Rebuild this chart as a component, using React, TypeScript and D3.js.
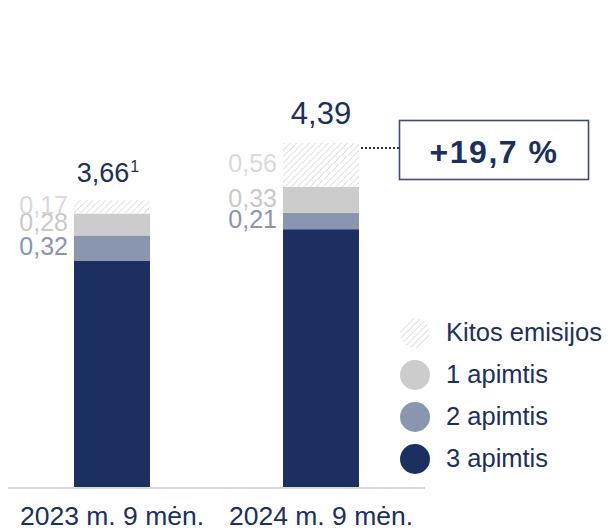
import React from "react";
import * as d3 from "d3";

const categories = ["2023 m. 9 mėn.", "2024 m. 9 mėn."];
const scope3 = [2.89, 3.29];
const scope2 = [0.32, 0.21];
const scope1 = [0.28, 0.33];
const other = [0.17, 0.56];
const totalLabels = ["3,66", "4,39"];
const totalSup = ["1", ""];
const changeLabel = "+19,7 %";
const seriesKeys = ["scope3", "scope2", "scope1", "other"];
const legendLabels = ["Kitos emisijos", "1 apimtis", "2 apimtis", "3 apimtis"];

const NAVY = "#1b2f60";
const MID = "#8a96b0";
const LIGHT = "#cccccc";
const HATCH = "#d2d2d2";
const FONT = "'Liberation Sans', Arial, sans-serif";

export default function App() {
  const W = 608, H = 529;
  const baseY = 487;
  const rows = categories.map((c, i) => ({
    cat: c,
    scope3: scope3[i],
    scope2: scope2[i],
    scope1: scope1[i],
    other: other[i],
  }));
  const stack = d3.stack<any>().keys(seriesKeys);
  const series = stack(rows);
  const maxTotal = d3.max(rows, (r) => r.scope3 + r.scope2 + r.scope1 + r.other) as number;
  const y = d3.scaleLinear().domain([0, maxTotal]).range([baseY, 143]);
  const x = d3.scalePoint<string>().domain(categories).range([112, 321]);
  const bw = 76;

  const fills: Record<string, string> = {
    scope3: NAVY,
    scope2: MID,
    scope1: LIGHT,
    other: "url(#hatch)",
  };
  const labelColors: Record<string, string> = {
    scope2: MID,
    scope1: "#c9c9c9",
    other: "#d9d9d9",
  };

  const legendFills = ["url(#hatch)", LIGHT, MID, NAVY];
  const legendY = d3.scalePoint<string>().domain(legendLabels).range([333, 459]);

  const top2 = y(maxTotal);
  const bar2Right = (x(categories[1]) as number) + bw / 2;

  return (
    <div style={{ position: "absolute", left: 0, top: 0 }}>
      <svg width={W} height={H} style={{ display: "block", fontFamily: FONT }}>
        <defs>
          <pattern id="hatch" patternUnits="userSpaceOnUse" width="4.5" height="4.5" patternTransform="rotate(45)">
            <rect width="4.5" height="4.5" fill="#ffffff" />
            <line x1="0" y1="0" x2="0" y2="4.5" stroke={HATCH} strokeWidth="1.3" />
          </pattern>
        </defs>
        {series.map((s) =>
          s.map((d, i) => (
            <rect
              key={s.key + i}
              x={(x(categories[i]) as number) - bw / 2}
              y={y(d[1])}
              width={bw}
              height={y(d[0]) - y(d[1])}
              fill={fills[s.key]}
            />
          ))
        )}
        {series
          .filter((s) => s.key !== "scope3")
          .map((s) =>
            s.map((d, i) => (
              <text
                key={"l" + s.key + i}
                x={(x(categories[i]) as number) - bw / 2 - 6}
                y={(y(d[0]) + y(d[1])) / 2 + 7}
                textAnchor="end"
                fontSize={25}
                fill={labelColors[s.key]}
              >
                {d3.format(".2f")(d[1] - d[0]).replace(".", ",")}
              </text>
            ))
          )}
        {categories.map((c, i) => {
          const total = rows[i].scope3 + rows[i].scope2 + rows[i].scope1 + rows[i].other;
          const big = i === 1;
          return (
            <text
              key={"t" + i}
              x={(x(c) as number) + (big ? 0 : -4)}
              y={y(total) - (big ? 19 : 18)}
              textAnchor="middle"
              fontSize={big ? 31 : 27}
              fill={NAVY}
            >
              {totalLabels[i]}
              {totalSup[i] && (
                <tspan fontSize={16} dy={-10} dx={1}>
                  {totalSup[i]}
                </tspan>
              )}
            </text>
          );
        })}
        <line x1={8} x2={425} y1={baseY + 1} y2={baseY + 1} stroke="#d9d9d9" strokeWidth={2} />
        {categories.map((c) => (
          <text key={"x" + c} x={x(c) as number} y={525} textAnchor="middle" fontSize={26.5} fill={NAVY}>
            {c}
          </text>
        ))}
        <line
          x1={bar2Right + 2}
          x2={399}
          y1={top2 + 5}
          y2={top2 + 5}
          stroke={NAVY}
          strokeWidth={2.2}
          strokeDasharray="2 2"
        />
        <rect x={399.5} y={120.5} width={189} height={59} fill="#ffffff" stroke="#3c4a7c" strokeWidth={1.6} />
        <text x={494} y={163} textAnchor="middle" fontSize={32} fontWeight="bold" fill={NAVY} letterSpacing={1.5}>
          {changeLabel}
        </text>
        {legendLabels.map((l, i) => (
          <g key={"lg" + i}>
            <circle cx={415} cy={legendY(l) as number} r={15} fill={legendFills[i]} />
            <text x={446} y={(legendY(l) as number) + 8} fontSize={25.5} fill={NAVY}>
              {l}
            </text>
          </g>
        ))}
      </svg>
    </div>
  );
}
